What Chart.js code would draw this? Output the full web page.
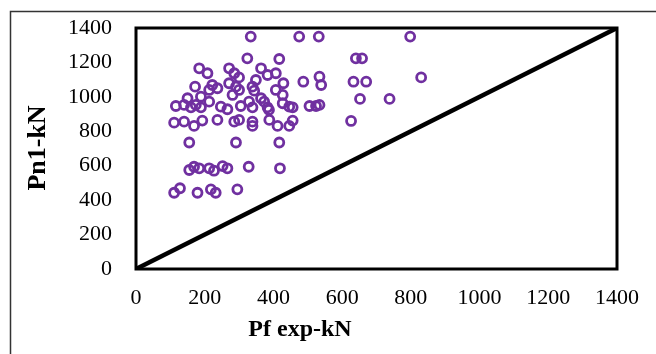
<!DOCTYPE html>
<html>
<head>
<meta charset="utf-8">
<script src="https://cdn.jsdelivr.net/npm/chart.js"></script>
<style>
  html, body { margin: 0; padding: 0; background: #fff; }
  canvas { display: block; }
</style>
</head>
<body>
<canvas id="chart" width="656" height="354"></canvas>
<script>
// Pf exp (kN) vs Pn1 (kN)
const pfExp = [
  334, 475, 532, 798,
  324, 417, 640, 658,
  184, 208, 271, 286, 300, 364, 383, 407, 534, 830,
  349, 429, 172, 222, 237, 213, 271, 291, 281, 300, 339, 344, 407, 427, 487, 539, 633, 670,
  150, 189, 174, 116, 140, 160, 189, 213, 247, 266, 305, 329, 339, 364, 373, 383, 387, 427, 446, 456, 505, 524, 534, 652, 738,
  111, 140, 169, 193, 237, 286, 300, 339, 339, 388, 412, 446, 456, 626,
  155, 291, 417,
  155, 169, 184, 213, 227, 252, 266, 328, 419,
  111, 128, 179, 218, 232, 295
];
const pn1 = [
  1350, 1350, 1350, 1350,
  1224, 1220, 1224, 1224,
  1166, 1137, 1166, 1137, 1113, 1166, 1127, 1137, 1117, 1113,
  1098, 1079, 1059, 1069, 1050, 1040, 1079, 1059, 1011, 1040, 1059, 1036, 1040, 1011, 1088, 1069, 1088, 1088,
  992, 1001, 953, 947, 953, 939, 939, 972, 943, 928, 947, 972, 939, 992, 972, 939, 924, 963, 943, 939, 947, 947, 953, 988, 988,
  850, 856, 831, 862, 866, 856, 866, 856, 831, 866, 831, 831, 862, 860,
  735, 735, 735,
  575, 594, 585, 585, 571, 598, 585, 594, 585,
  443, 469, 443, 463, 443, 463
];
const lineX = [0, 1400];
const lineY = [0, 1400];
const tickMin = 0, tickMax = 1400, tickStep = 200;
const xTitle = 'Pf exp-kN';
const yTitle = 'Pn1-kN';

const points = pfExp.map((x, i) => ({ x: x, y: pn1[i] }));
const diag = lineX.map((x, i) => ({ x: x, y: lineY[i] }));

const serif = '"Liberation Serif", "Times New Roman", serif';

const frame = {
  id: 'frame',
  beforeDraw(chart) {
    const ctx = chart.ctx;
    ctx.save();
    ctx.fillStyle = '#fff';
    ctx.fillRect(0, 0, chart.width, chart.height);
    // outer chart border (runs off the right and bottom)
    ctx.strokeStyle = '#333';
    ctx.lineWidth = 1.5;
    ctx.strokeRect(10.5, 11.5, 700, 400);
    ctx.restore();
  },
  afterDraw(chart) {
    const ctx = chart.ctx;
    const a = chart.chartArea;
    ctx.save();
    ctx.strokeStyle = '#000';
    ctx.lineWidth = 3;
    ctx.strokeRect(a.left, a.top, a.right - a.left, a.bottom - a.top);

    ctx.fillStyle = '#000';
    ctx.font = 'bold 24px ' + serif;
    ctx.textAlign = 'center';
    ctx.textBaseline = 'middle';
    ctx.fillText(xTitle, 300, 330);

    ctx.translate(38, 148);
    ctx.rotate(-Math.PI / 2);
    ctx.font = 'bold 26px ' + serif;
    ctx.fillText(yTitle, 0, 0);
    ctx.restore();
  }
};

new Chart(document.getElementById('chart'), {
  type: 'scatter',
  data: {
    datasets: [
      {
        data: points,
        pointRadius: 4.5,
        pointHoverRadius: 4.5,
        pointBorderWidth: 2.8,
        pointBorderColor: '#7030A0',
        pointBackgroundColor: 'rgba(0,0,0,0)',
        showLine: false
      },
      {
        data: diag,
        showLine: true,
        borderColor: '#000',
        borderWidth: 4.5,
        pointRadius: 0,
        fill: false
      }
    ]
  },
  options: {
    responsive: false,
    animation: false,
    layout: { padding: { left: 0, top: 28, right: 39, bottom: 0 } },
    plugins: {
      legend: { display: false },
      tooltip: { enabled: false }
    },
    scales: {
      x: {
        type: 'linear',
        min: tickMin,
        max: tickMax,
        grid: { display: false, drawTicks: false },
        border: { display: false },
        ticks: {
          stepSize: tickStep,
          padding: 16,
          color: '#000',
          font: { family: serif, size: 22 },
          callback: (v) => String(v)
        },
        afterFit(scale) { scale.height = 85; }
      },
      y: {
        type: 'linear',
        min: tickMin,
        max: tickMax,
        grid: { display: false, drawTicks: false },
        border: { display: false },
        ticks: {
          stepSize: tickStep,
          padding: 24,
          color: '#000',
          font: { family: serif, size: 22 },
          callback: (v) => String(v)
        },
        afterFit(scale) {
          scale.width = 136;
          scale.paddingTop = 0;
          scale.paddingBottom = 0;
        }
      }
    }
  },
  plugins: [frame]
});
</script>
</body>
</html>
